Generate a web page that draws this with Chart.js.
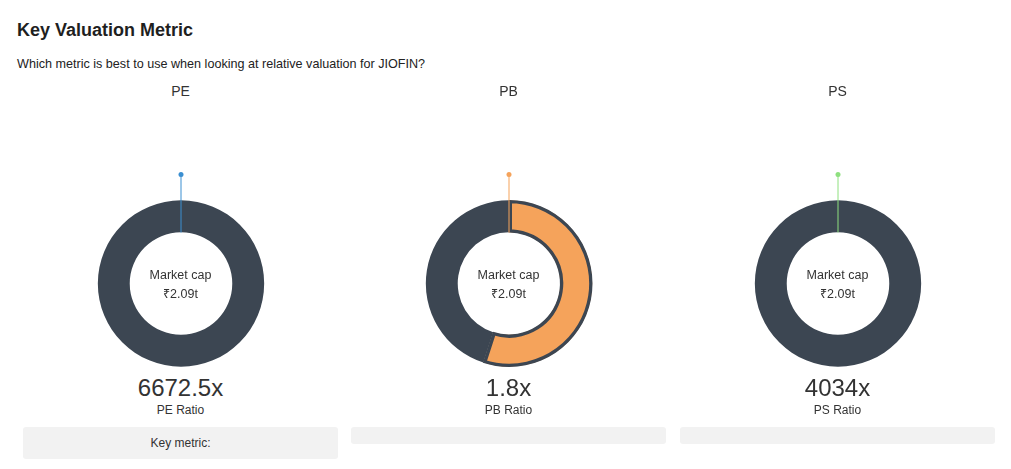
<!DOCTYPE html>
<html>
<head>
<meta charset="utf-8">
<script src="https://cdn.jsdelivr.net/npm/chart.js@4"></script>
<style>
  html, body { margin: 0; padding: 0; background: #fff; }
  body { width: 1011px; height: 469px; position: relative; overflow: hidden;
         font-family: "Liberation Sans", Arial, sans-serif; color: #333; }
  .abs { position: absolute; }
  #title { left: 17px; top: 20px; font-size: 18px; font-weight: bold; color: #1f1f1f; white-space: nowrap; }
  #sub { left: 17px; top: 57px; font-size: 12.6px; color: #222; white-space: nowrap; }
  .col { position: absolute; top: 0; width: 329px; height: 469px; }
  .hdr { position: absolute; left: 0; width: 100%; top: 83px; text-align: center; font-size: 14px; color: #333; }
  .cv { position: absolute; top: 160px; }
  .center { position: absolute; left: 0; width: 100%; top: 266px; text-align: center; font-size: 12.5px; line-height: 19px; color: #333; }
  .val { position: absolute; left: 0; width: 100%; top: 374px; text-align: center; font-size: 24px; color: #333; }
  .lab { position: absolute; left: 0; width: 100%; top: 403px; text-align: center; font-size: 12px; color: #333; }
  .box { position: absolute; top: 427px; background: #f2f2f2; border-radius: 3px; text-align: center; font-size: 12px; color: #333; }
</style>
</head>
<body>
<div id="title" class="abs">Key Valuation Metric</div>
<div id="sub" class="abs">Which metric is best to use when looking at relative valuation for JIOFIN?</div>
<div id="cols"></div>
<script>
const metrics = ["PE", "PB", "PS"];
const ratioValues = ["6672.5x", "1.8x", "4034x"];
const ratioLabels = ["PE Ratio", "PB Ratio", "PS Ratio"];
const metricShare = [0, 55, 0];      // coloured share of the ring (%)
const restShare = [100, 45, 100];
const accentColors = ["#3b8fd1", "#f5a35b", "#8ee07f"];
const centerLine1 = "Market cap";
const centerLine2 = "₹2.09t";
const keyMetricText = ["Key metric:", "", ""];

const colCenters = [180.5, 508.5, 837.5];
const boxLeft = [23, 351, 680];
const boxHeight = [32, 17, 17];
const ringColor = "#3c4652";

const pinPlugin = {
  id: 'pin',
  afterDatasetsDraw(chart, args, opts) {
    const arc = chart.getDatasetMeta(0).data[0];
    if (!arc) return;
    const {x, y, innerRadius} = arc.getProps(['x', 'y', 'innerRadius'], true);
    const ctx = chart.ctx;
    ctx.save();
    ctx.strokeStyle = opts.color;
    ctx.lineWidth = 1;
    ctx.beginPath();
    ctx.moveTo(x, y - innerRadius);
    ctx.lineTo(x, y - opts.length);
    ctx.stroke();
    ctx.fillStyle = opts.color;
    ctx.beginPath();
    ctx.arc(x, y - opts.length, 2.5, 0, Math.PI * 2);
    ctx.fill();
    ctx.restore();
  }
};

const cols = document.getElementById('cols');
metrics.forEach((m, i) => {
  const col = document.createElement('div');
  col.className = 'col';
  col.style.left = (colCenters[i] - 164.5) + 'px';
  col.innerHTML =
    '<div class="hdr">' + m + '</div>' +
    '<div class="center">' + centerLine1 + '<br>' + centerLine2 + '</div>' +
    '<div class="val">' + ratioValues[i] + '</div>' +
    '<div class="lab">' + ratioLabels[i] + '</div>';
  const wrap = document.createElement('div');
  wrap.className = 'cv';
  wrap.style.left = (164.5 - 85) + 'px';
  wrap.style.width = '170px';
  wrap.style.height = '210px';
  const cv = document.createElement('canvas');
  wrap.appendChild(cv);
  col.insertBefore(wrap, col.children[1]);
  cols.appendChild(col);

  const box = document.createElement('div');
  box.className = 'box';
  box.style.left = boxLeft[i] + 'px';
  box.style.width = '315px';
  box.style.height = boxHeight[i] + 'px';
  box.style.lineHeight = boxHeight[i] + 'px';
  box.textContent = keyMetricText[i];
  document.body.appendChild(box);

  new Chart(cv, {
    type: 'doughnut',
    data: {
      labels: [m, 'Other'],
      datasets: [{
        data: [metricShare[i], restShare[i]],
        backgroundColor: [accentColors[i], ringColor],
        borderColor: [ringColor, ringColor],
        borderWidth: [3, 0],
        borderAlign: 'inner',
        hoverOffset: 0
      }]
    },
    options: {
      responsive: true,
      maintainAspectRatio: false,
      animation: false,
      cutout: '61%',
      layout: { padding: { top: 40, bottom: 3, left: 1, right: 1 } },
      plugins: {
        legend: { display: false },
        tooltip: { enabled: false },
        pin: { color: accentColors[i], length: 109 }
      }
    },
    plugins: [pinPlugin]
  });
});
</script>
</body>
</html>
